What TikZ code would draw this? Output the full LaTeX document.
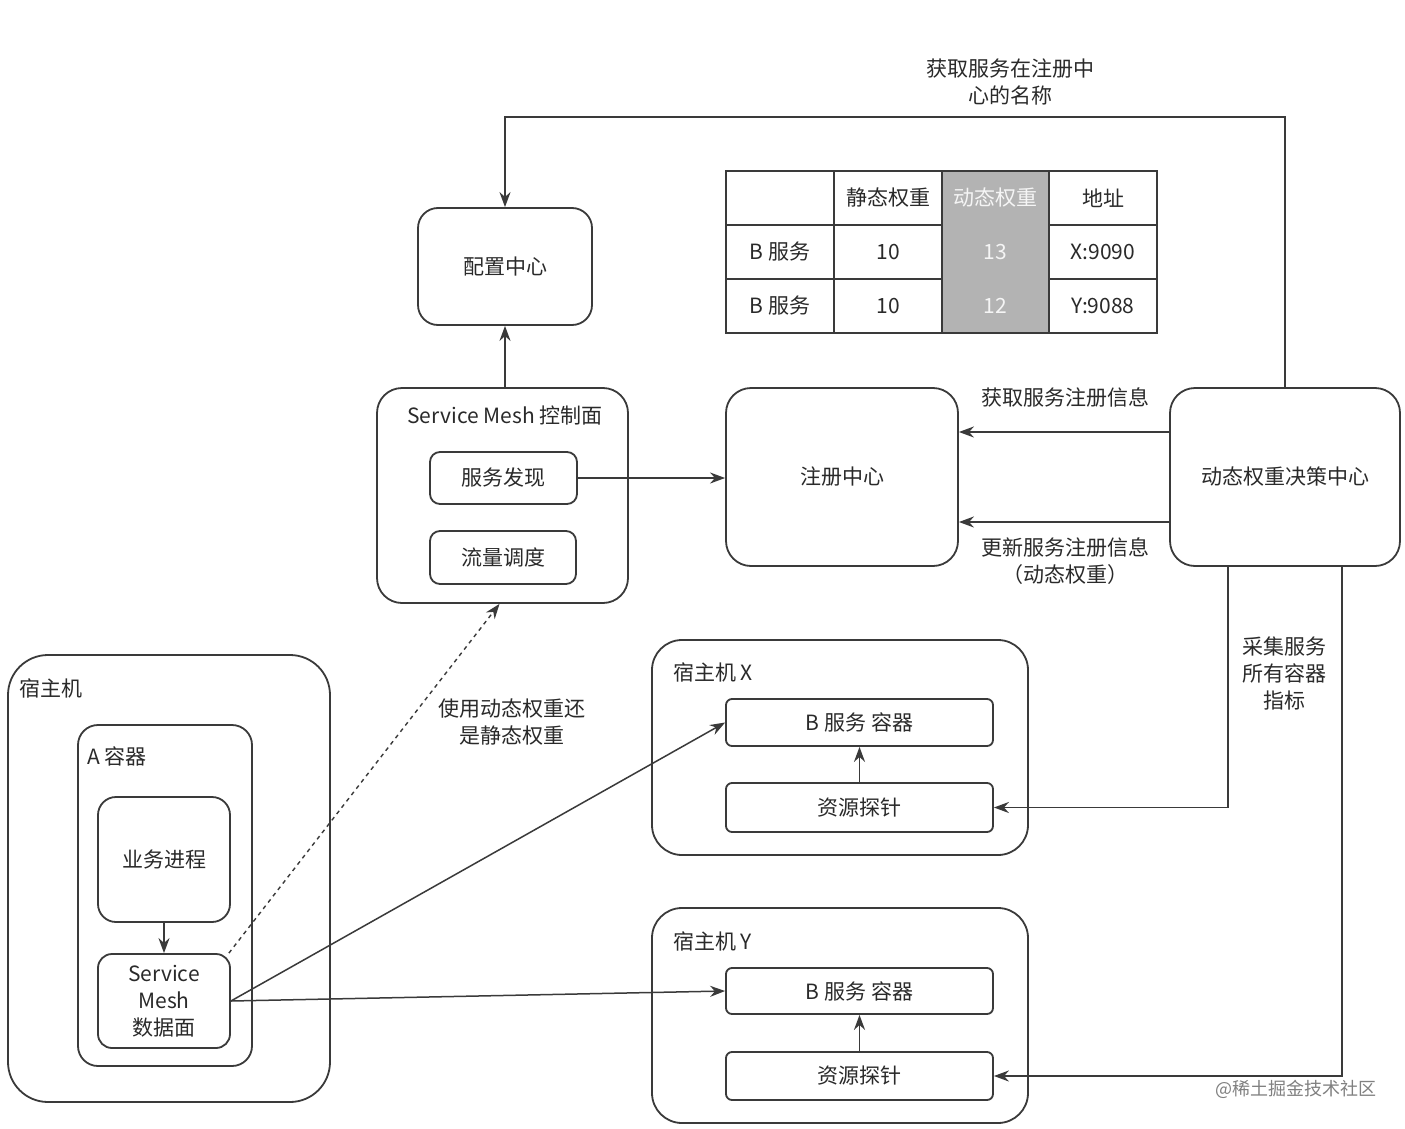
\documentclass[tikz,border=0pt]{standalone}
\usepackage{fontspec}
\setmainfont{Noto Sans CJK SC}
\usetikzlibrary{arrows.meta}
\definecolor{ln}{HTML}{3A3A3A}
\definecolor{tx}{HTML}{2A2A2A}
\definecolor{gcol}{HTML}{B3B3B3}
\begin{document}
\begin{tikzpicture}[x=1pt,y=-1pt,
  txt/.style={text=tx,font=\fontsize{21}{27}\selectfont,align=center,inner sep=0pt},
  box/.style={draw=ln,line width=1.8pt,fill=white,rounded corners=#1,txt},
  box/.default=12pt,
  cell/.style={draw=ln,line width=1.8pt,fill=white,minimum width=#1,minimum height=54pt,txt},
  gcell/.style={fill=gcol,minimum width=107pt,minimum height=54pt,txt,text=white!92!gray},
  arr/.style={draw=ln,line width=1.8pt,-{Stealth[length=15pt,width=11pt]}},
]
\useasboundingbox (0,0) rectangle (1405,1129);
\fill[white] (0,0) rectangle (1405,1129);

% top part
\node[box=20pt,minimum width=174pt,minimum height=117pt] (cfg) at (505,266.5) {配置中心};
\node[box=25pt,minimum width=251pt,minimum height=215pt] (cp) at (502.5,495.5) {};
\node[txt] (cpt) at (505,416) {Service Mesh 控制面};
\node[box=10pt,minimum width=147pt,minimum height=52pt] (sd) at (503.5,478) {服务发现};
\node[box=10pt,minimum width=146pt,minimum height=53pt] (tc) at (503,557.5) {流量调度};
\node[box=25pt,minimum width=232pt,minimum height=178pt] (reg) at (842,477) {注册中心};
\node[box=25pt,minimum width=230pt,minimum height=178pt] (dec) at (1285,477) {动态权重决策中心};

% table
\node[gcell] (t02) at (995.5,198) {动态权重};
\node[gcell] (t12) at (995.5,252) {13};
\node[gcell] (t22) at (995.5,306) {12};
\node[cell=108pt] (t00) at (780,198) {};
\node[cell=108pt] (t01) at (888,198) {静态权重};
\node[cell=108pt] (t03) at (1103,198) {地址};
\node[cell=108pt] (t10) at (780,252) {B 服务};
\node[cell=108pt] (t11) at (888,252) {10};
\node[cell=108pt] (t13) at (1103,252) {X:9090};
\node[cell=108pt] (t20) at (780,306) {B 服务};
\node[cell=108pt] (t21) at (888,306) {10};
\node[cell=108pt] (t23) at (1103,306) {Y:9088};
\draw[ln,line width=1.8pt] (t02.north west) -- (t02.north east);
\draw[ln,line width=1.8pt] (t22.south west) -- (t22.south east);

% left host
\node[box=40pt,minimum width=322pt,minimum height=447pt] (hl) at (169,878.5) {};
\node[txt,anchor=west] (hlt) at (19,688) {宿主机};
\node[box=20pt,minimum width=174pt,minimum height=341pt] (ac) at (165,895.5) {};
\node[txt,anchor=west] (act) at (87,756) {A 容器};
\node[box=18pt,minimum width=132pt,minimum height=125pt] (bp) at (164,859.5) {业务进程};
\node[box=14pt,minimum width=132pt,minimum height=94pt] (dp) at (164,1001) {Service\\Mesh\\数据面};

% host X
\node[box=30pt,minimum width=376pt,minimum height=215pt] (hx) at (840,747.5) {};
\node[txt,anchor=west] (hxt) at (673,672) {宿主机 X};
\node[box=6pt,minimum width=267pt,minimum height=47pt] (bx) at (859.5,722.5) {B 服务 容器};
\node[box=6pt,minimum width=267pt,minimum height=49pt] (px) at (859.5,807.5) {资源探针};

% host Y
\node[box=30pt,minimum width=376pt,minimum height=215pt] (hy) at (840,1015.5) {};
\node[txt,anchor=west] (hyt) at (673,941) {宿主机 Y};
\node[box=6pt,minimum width=267pt,minimum height=46pt] (by) at (859.5,991) {B 服务 容器};
\node[box=6pt,minimum width=267pt,minimum height=48pt] (py) at (859.5,1076) {资源探针};

% connectors
\draw[arr] (dec.north) -- ++(0,-270) -| (cfg.north);
\node[txt] (l1) at (1010,82) {获取服务在注册中\\心的名称};
\draw[arr] (cp.north -| cfg.south) -- (cfg.south);
\draw[arr] (sd.east) -- (sd.east -| reg.west);
\draw[arr] ([yshift=45pt]dec.west) -- ([yshift=45pt]dec.west -| reg.east);
\node[txt] (l2) at (1065,397) {获取服务注册信息};
\draw[arr] ([yshift=-45pt]dec.west) -- ([yshift=-45pt]dec.west -| reg.east);
\node[txt] (l3) at (1065,561) {更新服务注册信息\\（动态权重）};
\draw[arr] ([xshift=-57pt]dec.south) |- (px.east);
\node[txt,fill=white,inner sep=2pt] (l4) at (1284,673) {采集服务\\所有容器\\指标};
\draw[arr] ([xshift=57pt]dec.south) |- (py.east);
\draw[arr] (px.north) -- (bx.south);
\draw[arr] (py.north) -- (by.south);
\draw[arr] (bp.south) -- (dp.north);
\draw[arr,dashed,dash pattern=on 4pt off 4pt,line width=1.4pt] ([xshift=-2pt]dp.north east) -- ([xshift=-3pt]cp.south);
\node[txt] (l5) at (512,722) {使用动态权重还\\是静态权重};
\draw[arr,line width=1.5pt] (dp.east) -- (bx.west);
\draw[arr,line width=1.5pt] (dp.east) -- (by.west);

\node[txt,text=gray,font=\fontsize{18}{22}\selectfont] (wm) at (1296,1089) {@稀土掘金技术社区};
\end{tikzpicture}
\end{document}
